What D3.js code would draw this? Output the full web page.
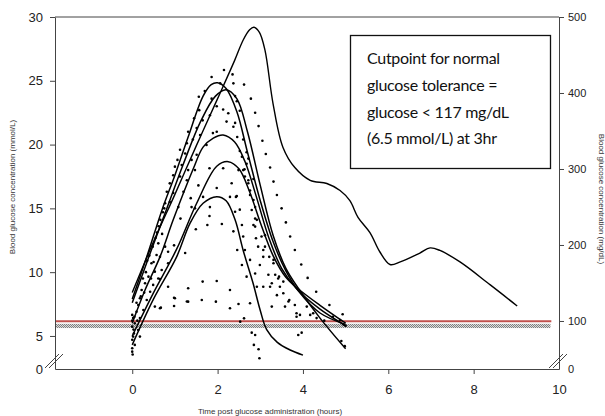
<!DOCTYPE html>
<html>
<head>
<meta charset="utf-8">
<script src="https://cdn.jsdelivr.net/npm/d3@7"></script>
<style>
  body { margin: 0; background: #fff; }
  svg { display: block; }
  .axis text { font-family: 'Liberation Sans', Arial, sans-serif; font-size: 13px; fill: #222; }
  .axis path, .axis line { stroke: #444; }
  .title { font-family: 'Liberation Sans', Arial, sans-serif; font-size: 8px; fill: #333; }
  .note { font-family: Lato, 'Open Sans', sans-serif; font-size: 16px; letter-spacing: -0.3px; fill: #111; }
</style>
</head>
<body>
<div id="chart"></div>
<script>
// tick labels
const xTicks = [0, 2, 4, 6, 8, 10]
const leftTicks = [0, 5, 10, 15, 20, 25, 30]
const rightTicks = [0, 100, 200, 300, 400, 500]

// axis breaks: the "0" label sits at these values
const leftBreak = 2.41
const rightBreak = 36.8

// reference lines (mmol/L)
const cutLine = 6.15
const bandLow = 5.62
const bandHigh = 5.95

// long individual curve [hours, mmol/L]
const longCurve = [
  [0, 8.4], [0.5, 12.4], [1.0, 16.1], [1.5, 19.9], [2.0, 23.6], [2.4, 26.6], [2.6, 28.2],
  [2.75, 29.0], [2.85, 29.2], [2.98, 28.8], [3.11, 27.4], [3.3, 23.2], [3.53, 19.8],
  [3.81, 18.2], [4.17, 17.2], [4.56, 16.95], [4.87, 16.4], [5.1, 15.6], [5.29, 14.3],
  [5.57, 13.1], [5.8, 11.6], [6.04, 10.6], [6.28, 10.8], [6.74, 11.5], [6.98, 11.9],
  [7.21, 11.7], [7.68, 10.8], [8.39, 9.0], [9.02, 7.35]
]

// fitted curves [hours, mmol/L]
const fitA = [
  [0, 7.9], [0.34, 11.2], [0.7, 14.9], [1.0, 17.6], [1.3, 20.5], [1.66, 23.8], [1.85, 24.7],
  [2.0, 24.85], [2.2, 24.4], [2.45, 22.6], [2.7, 19.4], [3.0, 15.6], [3.3, 12.4],
  [3.6, 10.1], [3.9, 8.5], [4.4, 6.8], [5.0, 5.9]
]
const fitB = [
  [0, 7.6], [0.4, 11.3], [0.8, 14.9], [1.2, 18.5], [1.6, 21.8], [1.95, 23.8], [2.2, 24.3],
  [2.45, 23.6], [2.7, 21.0], [3.0, 16.8], [3.3, 12.9], [3.6, 10.3], [3.9, 8.7],
  [4.4, 6.4], [5.0, 4.0]
]
const fitC = [
  [0, 6.0], [0.3, 8.6], [0.65, 11.2], [0.96, 14.1], [1.43, 18.1], [1.66, 19.8], [1.9, 20.5],
  [2.13, 20.75], [2.4, 20.2], [2.65, 18.6], [2.9, 16.0], [3.2, 12.7], [3.5, 10.3],
  [3.85, 8.7], [4.4, 7.1], [5.0, 5.8]
]
const fitD = [
  [0, 5.0], [0.5, 8.4], [1.04, 11.8], [1.51, 15.4], [1.98, 18.3], [2.25, 18.66], [2.5, 18.1],
  [2.75, 16.3], [3.0, 13.9], [3.3, 11.3], [3.6, 9.6], [3.85, 8.8], [4.4, 7.4], [5.0, 6.0]
]
const fitE = [
  [0, 4.3], [0.5, 7.9], [1.04, 11.2], [1.35, 13.8], [1.66, 15.4], [1.98, 15.92], [2.2, 15.6],
  [2.41, 14.1], [2.6, 11.7], [2.83, 9.15], [3.0, 7.0], [3.15, 5.5], [3.4, 4.5],
  [3.7, 3.9], [4.0, 3.5]
]

// individual measurements [hours, mmol/L]
const dots = [
  [0, 6.65], [0.02, 6.4], [0, 6.2], [0.06, 6.0], [0, 5.73], [0.03, 5.5], [0.02, 4.95], [0, 4.7],
  [0.06, 4.3], [0, 4.04], [0, 3.77], [0.01, 3.55], [0.04, 5.2], [0.05, 6.5], [0.1, 6.9],
  [0.14, 5.47], [0.18, 4.95], [0.18, 6.4], [0.14, 7.43], [0.26, 7.04], [0.18, 7.95], [0.22, 8.6],
  [0.34, 7.82], [0.3, 9.13], [0.38, 9.65], [0.42, 8.47], [0.49, 9.0], [0.45, 10.7], [0.53, 10.04],
  [0.53, 7.3], [0.57, 11.35], [0.61, 12.26], [0.61, 9.5], [0.65, 11.2], [0.65, 7.17], [0.69, 10.17],
  [0.67, 7.22], [0.65, 9.47], [0.77, 12.0], [0.84, 11.6], [0.84, 8.86], [0.84, 10.7], [0.98, 12.1],
  [0.98, 8.0], [0.98, 7.35], [1.0, 7.95], [1.24, 11.5], [1.28, 7.7], [1.31, 8.74], [1.31, 7.69],
  [0.1, 7.6], [0.12, 6.2], [0.2, 8.1], [0.25, 9.5], [0.28, 8.4], [0.32, 10.0], [0.35, 10.9],
  [0.4, 11.3], [0.44, 9.5], [0.48, 12.0], [0.5, 10.8], [0.55, 12.7], [0.58, 13.1], [0.62, 13.6],
  [0.66, 14.1], [0.7, 13.0], [0.72, 14.7], [0.75, 15.0], [0.77, 15.4], [0.81, 16.3], [0.88, 15.5],
  [0.88, 16.96], [0.96, 17.6], [0.96, 16.2], [1.0, 18.27], [1.06, 18.8], [1.08, 15.1], [1.12, 19.6],
  [1.12, 17.5], [1.13, 14.2], [1.16, 18.4], [1.2, 16.3], [1.24, 19.3], [1.28, 20.1], [1.28, 17.2],
  [1.31, 21.0], [1.31, 18.0], [1.37, 15.8], [1.39, 18.8], [1.39, 15.1], [1.42, 20.4], [1.45, 22.06],
  [1.47, 18.0], [1.47, 15.0], [1.49, 13.36], [1.51, 21.3], [1.51, 19.2], [1.55, 16.8], [1.56, 23.75],
  [1.57, 22.7], [1.59, 20.75], [1.63, 7.82], [1.65, 21.9], [1.65, 9.26], [1.66, 15.9], [1.7, 24.2],
  [1.74, 19.97], [1.76, 13.7], [1.81, 18.14], [1.81, 14.4], [1.82, 22.3], [1.82, 15.1], [1.86, 25.3],
  [1.86, 23.6], [1.89, 20.9], [1.96, 7.69], [1.98, 23.0], [1.98, 21.0], [1.98, 16.6], [1.98, 9.31],
  [2.06, 24.8], [2.1, 13.78], [2.13, 22.75], [2.13, 18.14], [2.15, 25.85], [2.21, 21.8], [2.25, 22.45],
  [2.29, 15.9], [2.29, 8.6], [2.29, 7.17], [2.33, 16.97], [2.35, 25.5], [2.37, 24.8], [2.37, 21.4],
  [2.37, 13.2], [2.41, 23.8], [2.41, 21.7], [2.41, 14.74], [2.43, 15.9], [2.45, 23.4], [2.45, 15.97],
  [2.46, 20.6], [2.46, 11.74], [2.49, 18.0], [2.49, 7.5], [2.52, 22.65], [2.52, 19.5], [2.52, 14.9],
  [2.53, 6.12], [2.57, 19.05], [2.57, 13.7], [2.57, 10.56], [2.6, 20.4], [2.6, 18.0], [2.6, 12.8],
  [2.62, 24.7], [2.62, 6.38], [2.63, 18.06], [2.64, 17.5], [2.64, 11.74], [2.68, 19.4], [2.68, 18.5],
  [2.68, 9.65], [2.72, 17.2], [2.72, 16.97], [2.72, 18.9], [2.76, 16.05], [2.76, 16.4], [2.76, 10.96],
  [2.76, 7.56], [2.78, 23.6], [2.8, 14.87], [2.8, 5.26], [2.84, 17.3], [2.84, 15.66], [2.84, 13.7],
  [2.85, 4.3], [2.88, 22.5], [2.88, 15.1], [2.88, 14.2], [2.88, 13.57], [2.88, 9.9], [2.88, 5.08],
  [2.9, 12.66], [2.92, 14.1], [2.92, 8.86], [2.95, 12.0], [2.96, 21.45], [2.96, 3.96], [2.98, 3.25],
  [2.99, 10.56], [3.03, 12.8], [3.05, 20.3], [3.07, 11.74], [3.07, 11.2], [3.07, 8.86], [3.11, 12.9],
  [3.11, 12.0], [3.13, 19.26], [3.19, 9.8], [3.21, 11.2], [3.23, 18.2], [3.23, 8.86], [3.27, 9.13],
  [3.27, 7.3], [3.31, 17.1], [3.31, 10.96], [3.31, 10.7], [3.35, 9.8], [3.39, 16.05], [3.39, 8.2],
  [3.42, 9.5], [3.44, 9.65], [3.46, 8.86], [3.5, 15.0], [3.54, 8.35], [3.54, 9.26], [3.58, 7.3],
  [3.6, 13.9], [3.66, 7.7], [3.68, 7.82], [3.7, 12.8], [3.81, 11.74], [3.81, 7.43], [3.85, 6.78],
  [3.85, 6.5], [3.89, 5.08], [3.93, 6.65], [3.96, 10.6], [3.97, 5.26], [4.09, 7.3], [4.11, 9.55],
  [4.17, 6.65], [4.24, 6.78], [4.31, 8.47], [4.32, 6.4], [4.5, 6.2], [4.62, 7.43], [4.7, 6.5],
  [4.87, 6.25], [4.93, 6.7], [4.95, 5.9], [5.0, 5.8], [4.98, 4.2], [4.9, 4.6]
]

const noteLines = [
  'Cutpoint for normal',
  'glucose tolerance =',
  'glucose < 117 mg/dL',
  '(6.5 mmol/L) at 3hr'
]

const width = 605
const height = 416
const plot = { left: 55, right: 559, top: 17, bottom: 369 }

const svg = d3.select('#chart')
  .append('svg')
  .attr('width', width)
  .attr('height', height)

// scales
const x = d3.scaleLinear().domain([-1.81, 10]).range([plot.left, plot.right])
const y = d3.scaleLinear().domain([leftBreak, 30]).range([plot.bottom, plot.top])
const yRight = d3.scaleLinear().domain([rightBreak, 500]).range([plot.bottom, plot.top])

// checker pattern for the grey band
const defs = svg.append('defs')
const pat = defs.append('pattern')
  .attr('id', 'checker')
  .attr('width', 2)
  .attr('height', 2)
  .attr('patternUnits', 'userSpaceOnUse')
pat.append('rect').attr('width', 2).attr('height', 2).attr('fill', '#dcdcdc')
pat.append('rect').attr('width', 1).attr('height', 1).attr('fill', '#808080')
pat.append('rect').attr('x', 1).attr('y', 1).attr('width', 1).attr('height', 1).attr('fill', '#808080')

// reference band and cutpoint line
svg.append('rect')
  .attr('x', plot.left)
  .attr('y', y(bandHigh))
  .attr('width', x(9.8) - plot.left)
  .attr('height', y(bandLow) - y(bandHigh))
  .attr('fill', 'url(#checker)')

svg.append('line')
  .attr('x1', plot.left)
  .attr('x2', x(9.82))
  .attr('y1', y(cutLine))
  .attr('y2', y(cutLine))
  .attr('stroke', '#c0504d')
  .attr('stroke-width', 2)

// dots
svg.append('g')
  .selectAll('circle')
  .data(dots)
  .enter()
  .append('circle')
  .attr('cx', d => x(d[0]))
  .attr('cy', d => y(d[1]))
  .attr('r', 1.3)
  .attr('fill', '#000')

// curves
const line = d3.line()
  .x(d => x(d[0]))
  .y(d => y(d[1]))
  .curve(d3.curveCatmullRom.alpha(0.5))

svg.append('g')
  .selectAll('path')
  .data([fitA, fitB, fitC, fitD, fitE])
  .enter()
  .append('path')
  .attr('d', line)
  .attr('fill', 'none')
  .attr('stroke', '#000')
  .attr('stroke-width', 1.5)

svg.append('path')
  .datum(longCurve)
  .attr('d', line)
  .attr('fill', 'none')
  .attr('stroke', '#000')
  .attr('stroke-width', 1.4)

// top border
svg.append('line')
  .attr('x1', plot.left)
  .attr('x2', plot.right)
  .attr('y1', plot.top)
  .attr('y2', plot.top)
  .attr('stroke', '#444')

// axes
const leftAxis = svg.append('g')
  .attr('class', 'axis')
  .attr('transform', `translate(${plot.left},0)`)
  .call(
    d3.axisLeft(y)
      .tickValues(leftTicks.map(v => (v === 0 ? leftBreak : v)))
      .tickFormat(v => (v === leftBreak ? '0' : v))
      .tickSize(5)
      .tickSizeOuter(0)
      .tickPadding(7),
  )
leftAxis.selectAll('.tick').filter(v => v === leftBreak).select('line').remove()

const rightAxis = svg.append('g')
  .attr('class', 'axis')
  .attr('transform', `translate(${plot.right},0)`)
  .call(
    d3.axisRight(yRight)
      .tickValues(rightTicks.map(v => (v === 0 ? rightBreak : v)))
      .tickFormat(v => (v === rightBreak ? '0' : v))
      .tickSize(5)
      .tickSizeOuter(0)
      .tickPadding(4),
  )
rightAxis.selectAll('.tick').filter(v => v === rightBreak).select('line').remove()
rightAxis.selectAll('text').style('font-size', '11px')

const bottomAxis = svg.append('g')
  .attr('class', 'axis')
  .attr('transform', `translate(0,${plot.bottom})`)
  .call(
    d3.axisBottom(x)
      .tickValues(xTicks)
      .tickSize(5)
      .tickSizeOuter(0)
      .tickPadding(11),
  )
bottomAxis.selectAll('.tick').filter(v => v === 10).select('line').remove()

// axis break marks
const breaks = svg.append('g').attr('stroke', '#444').attr('stroke-width', 1)
;[[plot.left, plot.bottom], [plot.right, plot.bottom]].forEach(([bx, by]) => {
  ;[-2, 2].forEach(off => {
    breaks.append('line')
      .attr('x1', bx - 8 + off)
      .attr('y1', by - 1)
      .attr('x2', bx + 6 + off)
      .attr('y2', by - 15)
  })
})

// axis titles
svg.append('text')
  .attr('class', 'title')
  .attr('text-anchor', 'middle')
  .attr('transform', 'translate(15,187) rotate(-90)')
  .text('Blood glucose concentration (mmol/L)')

svg.append('text')
  .attr('class', 'title')
  .attr('text-anchor', 'middle')
  .attr('transform', 'translate(599,199) rotate(90)')
  .text('Blood glucose concentration (mg/dL)')

svg.append('text')
  .attr('class', 'title')
  .attr('text-anchor', 'middle')
  .attr('x', 270)
  .attr('y', 414)
  .text('Time post glucose administration (hours)')

// annotation box
svg.append('rect')
  .attr('x', 350.5)
  .attr('y', 35.5)
  .attr('width', 200)
  .attr('height', 133)
  .attr('fill', '#fff')
  .attr('stroke', '#111')
  .attr('stroke-width', 1.3)

svg.append('g')
  .selectAll('text')
  .data(noteLines)
  .enter()
  .append('text')
  .attr('class', 'note')
  .attr('x', 367)
  .attr('y', (d, i) => 64 + i * 26.8)
  .text(d => d)
</script>
</body>
</html>
